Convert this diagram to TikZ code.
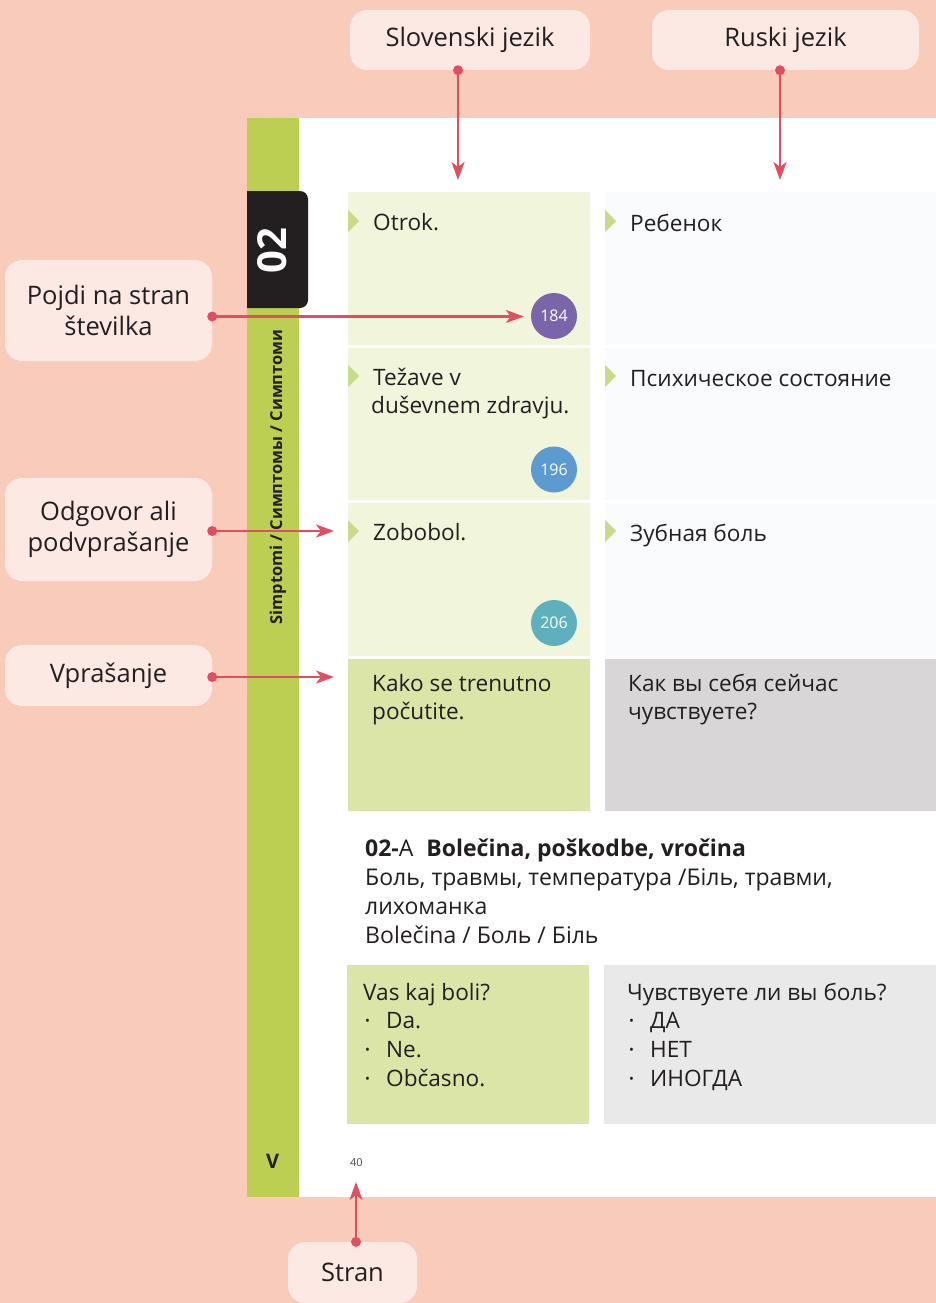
\documentclass[tikz,border=0pt]{standalone}
\usepackage{fontspec}
\setmainfont{Open Sans}
\usetikzlibrary{arrows.meta}
\definecolor{bgsalmon}{HTML}{F9CBBA}
\definecolor{callfill}{HTML}{FDE9E3}
\definecolor{sidegreen}{HTML}{BCCF52}
\definecolor{celllight}{HTML}{F1F5DC}
\definecolor{cellright}{HTML}{FAFBFD}
\definecolor{qleft}{HTML}{DBE5A8}
\definecolor{qright}{HTML}{D8D6D7}
\definecolor{aright}{HTML}{E9E9E9}
\definecolor{trigreen}{HTML}{C9DB8B}
\definecolor{arrowred}{HTML}{E24E5F}
\definecolor{ink}{HTML}{231F20}
\definecolor{tabblack}{HTML}{231F20}
\definecolor{cpurple}{HTML}{7A64AA}
\definecolor{cblue}{HTML}{5B9BD0}
\definecolor{cteal}{HTML}{5EB1BC}
\newcommand\mytri[2]{\fill[trigreen] (#1,#2-11) -- (#1+11,#2) -- (#1,#2+11) -- cycle;}
\begin{document}
\begin{tikzpicture}[x=1pt,y=-1pt,
 callout/.style={fill=callfill, rounded corners=17pt, text=ink, font=\fontsize{25.5}{31}\selectfont, align=center, inner sep=0pt},
 conn/.style={draw=arrowred, line width=2.5pt, -{Stealth[length=18pt,width=13pt,inset=5pt]}},
 dotmark/.style={fill=arrowred},
 celltext/.style={anchor=base west, text=ink, font=\fontsize{22.6}{29}\selectfont, inner sep=0pt},
 headtext/.style={anchor=base west, text=ink, font=\fontsize{23}{29}\selectfont, inner sep=0pt},
 bul/.style={anchor=base west, text=ink, font=\fontsize{13}{13}\selectfont, inner sep=0pt},
 pagenum/.style={circle, minimum size=46pt, inner sep=0pt, text=white, font=\fontsize{16}{16}\selectfont},
]
\useasboundingbox (0,0) rectangle (936,1303);
\fill[bgsalmon] (0,0) rectangle (936,1303);
% page
\fill[white] (299,118) rectangle (936,1197);
\fill[sidegreen] (247,118) rectangle (299,1197);
\fill[tabblack] (247,191) [rounded corners=8pt] -- (308,191) -- (308,308) [sharp corners] -- (247,308) -- cycle;
\node[rotate=90, text=white, font=\bfseries\fontsize{40}{40}\selectfont, inner sep=0pt] (tabnum) at (272.5,251) {02};
\node[rotate=90, anchor=base, font=\bfseries\fontsize{16.4}{17}\selectfont, text=ink, inner sep=0pt] (sidetxt) at (282,477) {Simptomi / Симптомы / Симптоми};
\node[anchor=base, font=\bfseries\fontsize{20}{20}\selectfont, text=ink, inner sep=0pt] (vmark) at (272.5,1168) {V};
\node[anchor=base west, font=\fontsize{11}{11}\selectfont, text=black!70, inner sep=0pt] (pgno) at (350,1166) {40};
% cells
\fill[celllight] (348,192) rectangle (590,345);
\fill[celllight] (348,348) rectangle (590,500);
\fill[celllight] (348,503) rectangle (590,656);
\fill[cellright] (605,192) rectangle (936,345);
\fill[cellright] (605,348) rectangle (936,500);
\fill[cellright] (605,503) rectangle (936,656);
\fill[qleft] (348,659) rectangle (590,811);
\fill[qright] (605,659) rectangle (936,811);
\fill[qleft] (347,965) rectangle (589,1124);
\fill[aright] (604,965) rectangle (936,1124);
% markers
\mytri{348}{221}
\mytri{348}{376}
\mytri{348}{531}
\mytri{605}{221}
\mytri{605}{376}
\mytri{605}{531}
% texts
\node[celltext] (t1) at (373,230) {Otrok.};
\node[celltext] (t2a) at (373,385) {Težave v};
\node[celltext] (t2b) at (371,413) {duševnem zdravju.};
\node[celltext] (t3) at (373,540) {Zobobol.};
\node[celltext] (r1) at (630,231) {Ребенок};
\node[celltext] (r2) at (630,386) {Психическое состояние};
\node[celltext] (r3) at (630,541) {Зубная боль};
\node[celltext] (q1a) at (372,691) {Kako se trenutno};
\node[celltext] (q1b) at (372,719) {počutite.};
\node[celltext] (q2a) at (628,691) {Как вы себя сейчас};
\node[celltext] (q2b) at (628,719) {чувствуете?};
\node[headtext] (h1) at (365,856) {\textbf{02-}A\hspace{13pt}\textbf{Bolečina, poškodbe, vročina}};
\node[headtext] (h2) at (365,885) {Боль, травмы, температура /Біль, травми,};
\node[headtext] (h3) at (365,914) {лихоманка};
\node[headtext] (h4) at (365,943) {Bolečina / Боль / Біль};
\node[celltext] (a1) at (363,1000) {Vas kaj boli?};
\node[bul] (ab1) at (365,1025) {•};
\node[celltext] (a2) at (386,1028) {Da.};
\node[bul] (ab2) at (365,1054) {•};
\node[celltext] (a3) at (386,1057) {Ne.};
\node[bul] (ab3) at (365,1083) {•};
\node[celltext] (a4) at (386,1086) {Občasno.};
\node[celltext] (b1) at (627,1000) {Чувствуете ли вы боль?};
\node[bul] (bb1) at (629,1025) {•};
\node[celltext] (b2) at (650,1028) {ДА};
\node[bul] (bb2) at (629,1054) {•};
\node[celltext] (b3) at (650,1057) {НЕТ};
\node[bul] (bb3) at (629,1083) {•};
\node[celltext] (b4) at (650,1086) {ИНОГДА};
% page number circles
\node[pagenum, fill=cpurple] (p184) at (554,316) {184};
\node[pagenum, fill=cblue] (p196) at (554,469.5) {196};
\node[pagenum, fill=cteal] (p206) at (554,623) {206};
% callouts
\node[callout, minimum width=240pt, minimum height=60pt] (slo) at (470,40) {Slovenski jezik};
\node[callout, minimum width=267pt, minimum height=60pt] (rus) at (785.5,40) {Ruski jezik};
\node[callout, minimum width=207pt, minimum height=101pt] (pojdi) at (108.5,310.5) {Pojdi na stran\\številka};
\node[callout, minimum width=207pt, minimum height=103pt] (odg) at (108.5,529.5) {Odgovor ali\\podvprašanje};
\node[callout, minimum width=207pt, minimum height=61pt] (vpr) at (108.5,675.5) {Vprašanje};
\node[callout, minimum width=129pt, minimum height=61pt] (stran) at (352.5,1272.5) {Stran};
% connector coordinates
\coordinate (slodot) at ([xshift=-12pt]slo.south);
\coordinate (rusdot) at ([xshift=-5.5pt]rus.south);
\coordinate (pojdidot) at ([yshift=-6pt]pojdi.east);
\coordinate (odgdot) at ([yshift=-1.5pt]odg.east);
\coordinate (vprdot) at ([yshift=-1.5pt]vpr.east);
\coordinate (strandot) at ([xshift=3.5pt]stran.north);
\coordinate (sloend) at (458,180);
\coordinate (rusend) at (780,180);
\coordinate (odgend) at (334,531);
\coordinate (vprend) at (334,677);
\coordinate (stranend) at (356,1182);
% connectors
\draw[conn] (slodot) -- (sloend);
\draw[conn] (rusdot) -- (rusend);
\draw[conn, shorten >=7pt] (pojdidot) -- (pojdidot -| p184.west);
\draw[conn] (odgdot) -- (odgend);
\draw[conn] (vprdot) -- (vprend);
\draw[conn] (strandot) -- (stranend);
\foreach \d in {slodot,rusdot,pojdidot,odgdot,vprdot,strandot}
  \fill[dotmark] (\d) circle[radius=5pt];
\end{tikzpicture}
\end{document}
